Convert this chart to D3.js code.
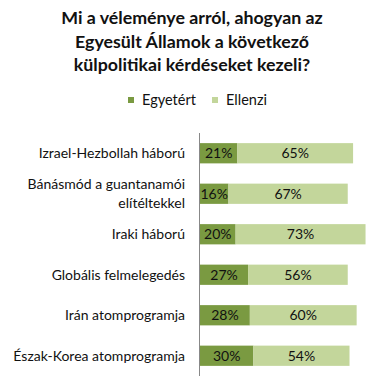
<!DOCTYPE html>
<html>
<head>
<meta charset="utf-8">
<script src="https://cdn.jsdelivr.net/npm/d3@7"></script>
<style>
body { margin: 0; background: #fff; }
svg { font-family: Lato, "Open Sans", sans-serif; }
</style>
</head>
<body>
<svg width="385" height="382"></svg>
<script>
var titleLines = ["Mi a véleménye arról, ahogyan az", "Egyesült Államok a következő", "külpolitikai kérdéseket kezeli?"];
var categories = [["Izrael-Hezbollah háború"], ["Bánásmód a guantanamói", "elítéltekkel"], ["Iraki háború"],
    ["Globális felmelegedés"], ["Irán atomprogramja"], ["Észak-Korea atomprogramja"]];
var agree = [21, 16, 20, 27, 28, 30];
var oppose = [65, 67, 73, 56, 60, 54];
var seriesNames = ["Egyetért", "Ellenzi"];
var colors = ["#7a9a41", "#c3d69b"];

var svg = d3.select("svg");

// title
svg.append("g")
    .selectAll("text")
    .data(titleLines)
    .enter().append("text")
    .attr("x", 192)
    .attr("y", function(d, i) { return 24 + i * 23.5; })
    .attr("text-anchor", "middle")
    .style("font-size", "17.8px")
    .style("font-weight", "bold")
    .style("fill", "#111")
    .text(function(d) { return d; });

// legend
var legendX = [128, 212];
var legend = svg.append("g")
    .selectAll("g")
    .data(seriesNames)
    .enter().append("g")
    .attr("transform", function(d, i) { return "translate(" + legendX[i] + ",100)"; });
legend.append("rect")
    .attr("x", 0).attr("y", -3)
    .attr("width", 6).attr("height", 6)
    .style("fill", function(d, i) { return colors[i]; });
legend.append("text")
    .attr("x", 14).attr("y", 5)
    .style("font-size", "14.5px")
    .style("fill", "#111")
    .text(function(d) { return d; });

var x = d3.scaleLinear().domain([0, 100]).range([200, 378]);
var y = d3.scaleBand().domain(d3.range(categories.length)).range([133, 376])
    .paddingInner(0.5).paddingOuter(0.25);

var rows = svg.append("g")
    .selectAll("g")
    .data(categories)
    .enter().append("g");

rows.append("rect")
    .attr("x", x(0))
    .attr("y", function(d, i) { return y(i); })
    .attr("width", function(d, i) { return x(agree[i]) - x(0); })
    .attr("height", y.bandwidth())
    .style("fill", colors[0]);

rows.append("rect")
    .attr("x", function(d, i) { return x(agree[i]); })
    .attr("y", function(d, i) { return y(i); })
    .attr("width", function(d, i) { return x(agree[i] + oppose[i]) - x(agree[i]); })
    .attr("height", y.bandwidth())
    .style("fill", colors[1]);

rows.append("text")
    .attr("x", function(d, i) { return (x(0) + x(agree[i])) / 2; })
    .attr("y", function(d, i) { return y(i) + y.bandwidth() / 2 + 5; })
    .attr("text-anchor", "middle")
    .style("font-size", "14px")
    .style("fill", "#111")
    .text(function(d, i) { return agree[i] + "%"; });

rows.append("text")
    .attr("x", function(d, i) { return (x(agree[i]) + x(agree[i] + oppose[i])) / 2; })
    .attr("y", function(d, i) { return y(i) + y.bandwidth() / 2 + 5; })
    .attr("text-anchor", "middle")
    .style("font-size", "14px")
    .style("fill", "#111")
    .text(function(d, i) { return oppose[i] + "%"; });

// category labels
rows.append("text")
    .attr("text-anchor", "end")
    .style("font-size", "14px")
    .style("fill", "#111")
    .attr("y", function(d, i) { return y(i) + y.bandwidth() / 2 + 5 - (d.length - 1) * 9.7; })
    .selectAll("tspan")
    .data(function(d) { return d; })
    .enter().append("tspan")
    .attr("x", 185)
    .attr("dy", function(d, j) { return j ? 19.4 : 0; })
    .text(function(d) { return d; });

// axis line
svg.append("line")
    .attr("x1", 199.5).attr("x2", 199.5)
    .attr("y1", 133).attr("y2", 376)
    .style("stroke", "#888")
    .style("stroke-width", 1);
</script>
</body>
</html>
